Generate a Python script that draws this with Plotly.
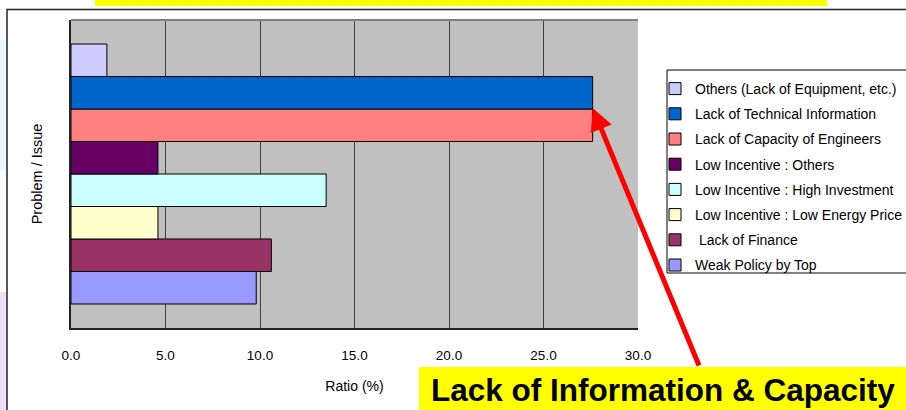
import plotly.graph_objects as go

# ---- data (bottom to top in the chart) ----
series_names = [
    "Weak Policy by Top",
    " Lack of Finance",
    "Low Incentive : Low Energy Price",
    "Low Incentive : High Investment",
    "Low Incentive : Others",
    "Lack of Capacity of Engineers",
    "Lack of Technical Information",
    "Others (Lack of Equipment, etc.)",
]
series_values = [9.8, 10.6, 4.6, 13.5, 4.6, 27.6, 27.6, 1.9]
series_colors = ["#9999FF", "#993366", "#FFFFCC", "#CCFFFF",
                 "#660066", "#FF8080", "#0066CC", "#CCCCFF"]
category = ["Problem / Issue"]
x_ticks = [0, 5, 10, 15, 20, 25, 30]

W, H = 906, 410
L, R, T, B = 71, 638, 20, 328  # plot area in pixels


def px(xp):
    return (xp - L) / (R - L)


def py(yp):
    return (B - yp) / (B - T)


FONT = "Liberation Sans, Arial, sans-serif"

fig = go.Figure()
n = len(series_names)
for i, (nm, v, c) in enumerate(zip(series_names, series_values, series_colors)):
    fig.add_trace(go.Bar(
        x=[v], y=category, name=nm, orientation="h",
        marker=dict(color=c, line=dict(color="black", width=1)),
        legendgroup=f"g{i}", legendrank=n - i,
    ))

shapes = [
    # slide background bits
    dict(type="rect", xref="paper", yref="paper", x0=px(0), x1=px(6.5), y0=py(170), y1=py(40),
         fillcolor="#EAF4FD", line=dict(width=0), layer="below"),
    dict(type="rect", xref="paper", yref="paper", x0=px(0), x1=px(6.5), y0=py(415), y1=py(292),
         fillcolor="#EEDDF8", line=dict(width=0), layer="below"),
    dict(type="rect", xref="paper", yref="paper", x0=px(95), x1=px(827), y0=py(6), y1=py(-2),
         fillcolor="#FFFF00", line=dict(width=0)),
    # chart frame
    dict(type="rect", xref="paper", yref="paper", x0=px(7), x1=px(920), y0=py(420), y1=py(9.5),
         fillcolor="rgba(0,0,0,0)", line=dict(color="#222222", width=1.5)),
    # top border of plot area
    dict(type="line", xref="paper", yref="paper", x0=0, x1=1, y0=1, y1=1,
         line=dict(color="#808080", width=2)),
    # legend box
    dict(type="rect", xref="paper", yref="paper", x0=px(667), x1=px(930), y0=py(273), y1=py(70),
         fillcolor="white", line=dict(color="black", width=1)),
    # bottom yellow box
    dict(type="rect", xref="paper", yref="paper", x0=px(419), x1=px(920), y0=py(420), y1=py(367),
         fillcolor="#FFFF00", line=dict(width=0)),
]

annotations = [
    dict(x=27.6, y=0.5 - (108 - T) / (B - T), xref="x", yref="y",
         ax=107, ay=259, axref="pixel", ayref="pixel",
         text="", showarrow=True, arrowhead=2, arrowsize=0.9, arrowwidth=5,
         arrowcolor="#FF0000", standoff=0),
    dict(x=px(429), y=py(390), xref="paper", yref="paper", xanchor="left", yanchor="middle",
         text="<b>Lack of Information & Capacity</b>", showarrow=False,
         font=dict(family=FONT, size=31.5, color="black")),
]

fig.update_layout(
    width=W, height=H,
    margin=dict(l=L, r=W - R, t=T, b=H - B, autoexpand=False),
    paper_bgcolor="white", plot_bgcolor="#C0C0C0",
    barmode="group", bargap=0.156, bargroupgap=0,
    font=dict(family=FONT, size=12, color="black"),
    showlegend=True,
    legend=dict(x=px(655), y=py(73), xanchor="left", yanchor="top",
                traceorder="grouped", tracegroupgap=4,
                bgcolor="rgba(0,0,0,0)", borderwidth=0,
                font=dict(family=FONT, size=14, color="black"),
                itemwidth=30),
    shapes=shapes, annotations=annotations,
    xaxis=dict(range=[0, 30], tickvals=x_ticks, tickformat=".1f",
               showgrid=True, gridcolor="#404040", gridwidth=1,
               zeroline=False, showline=True, linecolor="#222222", linewidth=1.5,
               ticks="", ticklabelstandoff=14,
               tickfont=dict(family=FONT, size=13.5),
               title=dict(text="Ratio (%)", standoff=19, font=dict(family=FONT, size=14))),
    yaxis=dict(range=[-0.5, 0.5], showticklabels=False, showgrid=False,
               zeroline=False, showline=True, linecolor="#222222", linewidth=1.5,
               ticks="",
               title=dict(text="Problem / Issue", standoff=23, font=dict(family=FONT, size=14.5))),
)

fig.write_html("out.html", post_script="document.body.style.margin='0';",
               config={"displayModeBar": False})
